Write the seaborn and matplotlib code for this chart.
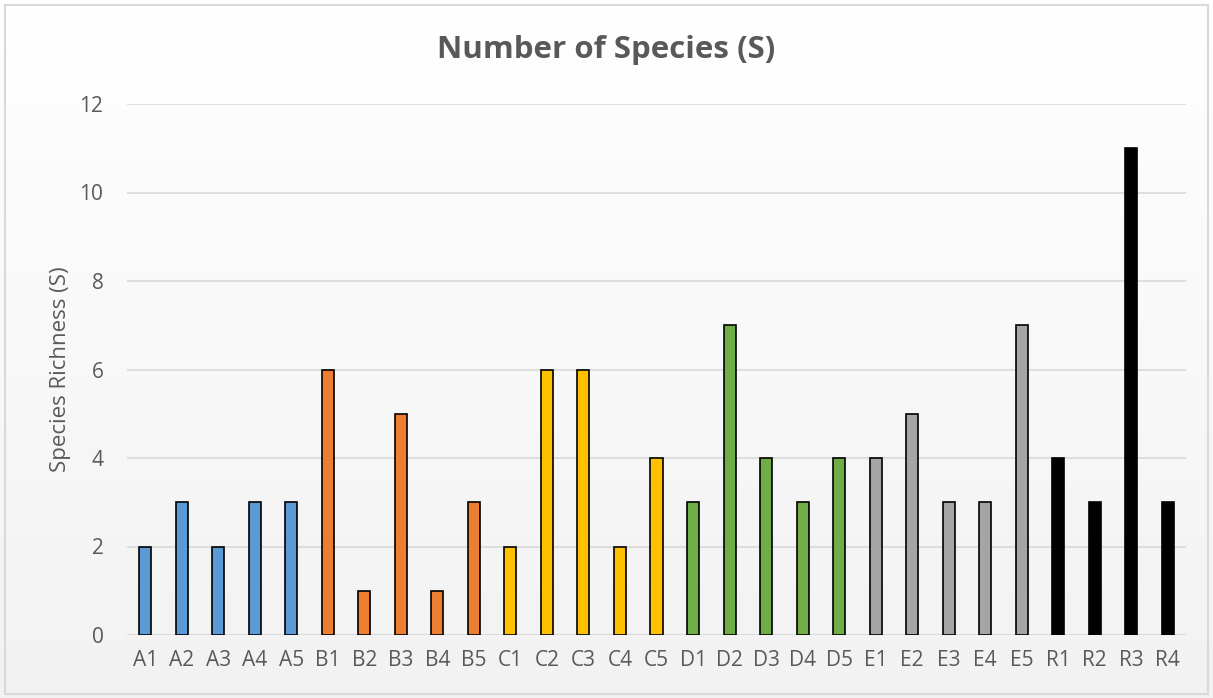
import matplotlib
matplotlib.use("Agg")
import matplotlib.pyplot as plt
import numpy as np
import pandas as pd
import seaborn as sns
from matplotlib.patches import Rectangle

sites = ["A1", "A2", "A3", "A4", "A5", "B1", "B2", "B3", "B4", "B5",
         "C1", "C2", "C3", "C4", "C5", "D1", "D2", "D3", "D4", "D5",
         "E1", "E2", "E3", "E4", "E5", "R1", "R2", "R3", "R4"]
richness = [2, 3, 2, 3, 3, 6, 1, 5, 1, 3,
            2, 6, 6, 2, 4, 3, 7, 4, 3, 4,
            4, 5, 3, 3, 7, 4, 3, 11, 3]
groups = ["A"] * 5 + ["B"] * 5 + ["C"] * 5 + ["D"] * 5 + ["E"] * 5 + ["R"] * 4
group_colors = {"A": "#5B9BD5", "B": "#ED7D31", "C": "#FFC000",
                "D": "#70AD47", "E": "#A5A5A5", "R": "#000000"}

df = pd.DataFrame({"site": sites, "S": richness, "group": groups})

sns.set_style("white")
plt.rcParams["font.family"] = ["Open Sans", "DejaVu Sans"]
text_color = "#595959"

fig = plt.figure(figsize=(12.13, 6.98), dpi=100)

# soft vertical gradient behind the chart
bg = fig.add_axes([0, 0, 1, 1], zorder=-10)
grad = np.linspace(1.0, 0.949, 256).reshape(-1, 1)
bg.imshow(np.dstack([grad, grad, grad]), aspect="auto", extent=[0, 1, 0, 1],
          origin="upper")
bg.add_patch(Rectangle((5 / 1213, 4 / 698), 1203 / 1213, 689 / 698,
                       fill=False, edgecolor="#D9D9D9", linewidth=1.5))
bg.set_xlim(0, 1)
bg.set_ylim(0, 1)
bg.axis("off")

ax = fig.add_axes([127 / 1213, 1 - 635 / 698, (1186 - 127) / 1213, (635 - 104) / 698])
ax.patch.set_alpha(0)

sns.barplot(data=df, x="site", y="S", hue="group", palette=group_colors,
            dodge=False, width=0.33, saturation=1, edgecolor="black",
            linewidth=1.2, legend=False, ax=ax, zorder=3)

ax.set_ylim(0, 12)
ax.set_yticks(range(0, 13, 2))
ax.set_xlim(-0.5, len(sites) - 0.5)
ax.yaxis.grid(True, color="#D9D9D9", linewidth=1.2, zorder=0)
ax.set_axisbelow(True)
for side in ["top", "right", "left", "bottom"]:
    ax.spines[side].set_visible(False)
ax.axhline(0, color="#D9D9D9", linewidth=1.2, zorder=1)

ax.tick_params(axis="both", length=0, labelsize=15, colors=text_color)
ax.tick_params(axis="y", pad=17)
ax.tick_params(axis="x", pad=11)
ax.set_xlabel("")
ax.set_ylabel("Species Richness (S)", fontsize=16, color=text_color, labelpad=6)

fig.text(0.5, 1 - 50 / 698, "Number of Species (S)", ha="center", va="center",
         fontsize=22.5, fontweight="bold", color=text_color)

fig.savefig("out.png", dpi=100)
